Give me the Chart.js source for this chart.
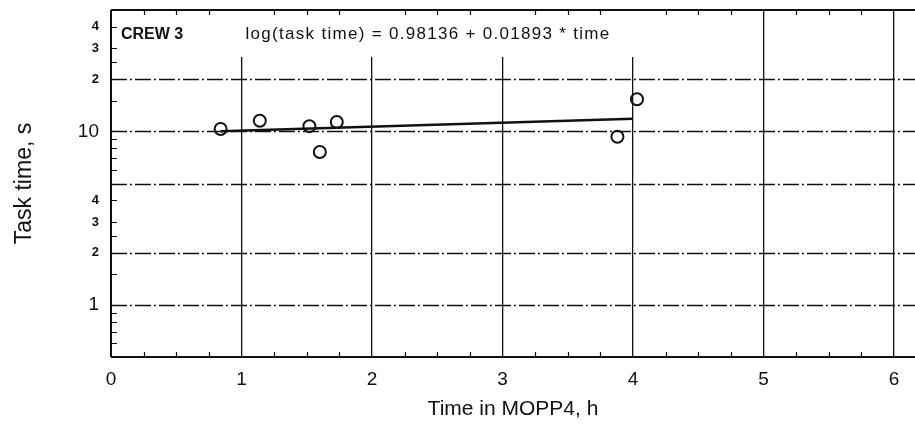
<!DOCTYPE html>
<html><head><meta charset="utf-8">
<script src="https://cdn.jsdelivr.net/npm/chart.js@4.4.0/dist/chart.umd.min.js"></script>
<style>html,body{margin:0;padding:0;background:#fff}#wrap{width:915px;height:433px;position:relative}</style>
</head><body><div id="wrap"><canvas id="c"></canvas></div>
<script>
// ---- data ----
const timeHours = [0.84, 1.14, 1.52, 1.60, 1.73, 3.88, 4.03];
const taskTimes = [10.3, 11.5, 10.7, 7.6, 11.3, 9.3, 15.3];
const fitTimes = [0.84, 4.0];
const fitTaskTimes = [10.0, 11.8];
const xTickValues = [0, 1, 2, 3, 4, 5, 6];
const xMinorTicks = [0.25, 0.5, 0.75, 1.25, 1.5, 1.75, 2.25, 2.5, 2.75, 3.25, 3.5, 3.75, 4.25, 4.5, 4.75, 5.25, 5.5, 5.75];
const yTickValues = [1, 2, 3, 4, 5, 10, 20, 30, 40];
const yTickLabels = ['1', '2', '3', '4', '', '10', '2', '3', '4'];
const yMajorLabels = [1, 10];
const yGridValues = [1, 2, 5, 10, 20];
const yMinorTicks = [0.6, 0.7, 0.8, 0.9, 1.5, 2.5, 3, 4, 6, 7, 8, 9, 15, 25, 30, 40];
const crewLabel = 'CREW 3';
const equationLabel = 'log(task time) = 0.98136 + 0.01893 * time';
const xTitle = 'Time in MOPP4, h';
const yTitle = 'Task time, s';

const FONT = "'Liberation Sans', Arial, Helvetica, sans-serif";
const INK = '#111';

const decor = {
  id: 'decor',
  beforeDatasetsDraw(chart) {
    const {ctx, chartArea: a, scales: {x, y}} = chart;
    ctx.save();
    // white text box occluding vertical grid lines
    ctx.fillStyle = '#fff';
    ctx.fillRect(a.left + 2, a.top, x.getPixelForValue(4.15) - a.left - 2, 47);
    // horizontal grid lines
    ctx.strokeStyle = INK;
    ctx.lineWidth = 1.4;
    ctx.setLineDash([16, 3, 2, 3]);
    yGridValues.forEach(v => {
      const py = Math.round(y.getPixelForValue(v)) + 0.5;
      ctx.beginPath(); ctx.moveTo(a.left, py); ctx.lineTo(a.right, py); ctx.stroke();
    });
    ctx.setLineDash([]);
    // frame
    ctx.lineWidth = 2;
    ctx.beginPath();
    ctx.moveTo(a.left, a.top); ctx.lineTo(a.right, a.top);
    ctx.moveTo(a.left, a.top); ctx.lineTo(a.left, a.bottom);
    ctx.moveTo(a.left, a.bottom); ctx.lineTo(a.right, a.bottom);
    ctx.stroke();
    // minor ticks (inward)
    ctx.lineWidth = 1.2;
    ctx.beginPath();
    yMinorTicks.forEach(v => {
      const py = Math.round(y.getPixelForValue(v)) + 0.5;
      ctx.moveTo(a.left, py); ctx.lineTo(a.left + 6, py);
    });
    xMinorTicks.forEach(v => {
      const px = Math.round(x.getPixelForValue(v)) + 0.5;
      ctx.moveTo(px, a.bottom); ctx.lineTo(px, a.bottom - 5);
      ctx.moveTo(px, a.top); ctx.lineTo(px, a.top + 5);
    });
    ctx.stroke();
    // in-plot labels
    ctx.fillStyle = INK;
    ctx.textBaseline = 'alphabetic';
    ctx.textAlign = 'left';
    ctx.font = "bold 16px " + FONT;
    ctx.fillText(crewLabel, a.left + 10, a.top + 29);
    ctx.font = "17px " + FONT;
    try { ctx.letterSpacing = '1.3px'; } catch (e) {}
    ctx.fillText(equationLabel, x.getPixelForValue(1.03), a.top + 29);
    ctx.restore();
  }
};

new Chart(document.getElementById('c'), {
  type: 'scatter',
  data: {
    datasets: [
      {
        label: 'observed',
        data: timeHours.map((t, i) => ({x: t, y: taskTimes[i]})),
        showLine: false,
        pointStyle: 'circle',
        pointRadius: 6,
        pointBorderWidth: 2,
        borderColor: INK,
        backgroundColor: 'rgba(0,0,0,0)'
      },
      {
        label: 'fit',
        data: fitTimes.map((t, i) => ({x: t, y: fitTaskTimes[i]})),
        showLine: true,
        pointRadius: 0,
        borderWidth: 2.5,
        borderColor: INK,
        backgroundColor: INK
      }
    ]
  },
  options: {
    responsive: true,
    maintainAspectRatio: false,
    animation: false,
    devicePixelRatio: 1,
    layout: {autoPadding: false, padding: {top: 10, right: 0, left: 0, bottom: 0}},
    plugins: {legend: {display: false}, tooltip: {enabled: false}, title: {display: false}},
    scales: {
      x: {
        type: 'linear', min: 0, max: 6.16,
        afterBuildTicks: s => { s.ticks = xTickValues.map(v => ({value: v})); },
        afterFit: s => { s.height = 76; s.paddingLeft = 0; s.paddingRight = 0; },
        ticks: {font: {family: FONT, size: 19}, color: INK, padding: 11, callback: v => String(v)},
        grid: {color: INK, lineWidth: 1.3, drawTicks: false},
        border: {display: false},
        title: {display: true, text: xTitle, color: INK, font: {family: FONT, size: 21}, padding: {top: 0, bottom: 11}}
      },
      y: {
        type: 'logarithmic', min: 0.5, max: 50,
        afterBuildTicks: s => { s.ticks = yTickValues.map(v => ({value: v})); },
        afterFit: s => { s.width = 111; s.paddingTop = 0; s.paddingBottom = 0; },
        ticks: {
          color: INK, padding: 12, autoSkip: false,
          callback: v => yTickLabels[yTickValues.indexOf(v)],
          font: c => yMajorLabels.includes(c.tick && c.tick.value) ? {family: FONT, size: 19} : {family: FONT, size: 13, weight: 'bold'}
        },
        grid: {display: false, drawTicks: false},
        border: {display: false},
        title: {display: true, text: yTitle, color: INK, font: {family: FONT, size: 23}, padding: {top: 11, bottom: 0}}
      }
    }
  },
  plugins: [decor]
});
</script></body></html>
